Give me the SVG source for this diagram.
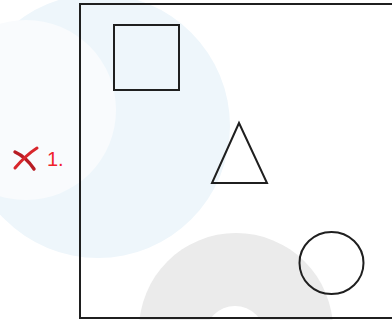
<svg xmlns="http://www.w3.org/2000/svg" width="392" height="320" viewBox="0 0 392 320">
<style>
.sh{fill:none;stroke:#1f1f1f;stroke-width:2}
.lbl{font-family:"Liberation Sans",Arial,sans-serif;font-size:20px;fill:#f0222a}
</style>
<rect width="392" height="320" fill="#ffffff"/>
<g id="watermark">
<circle cx="98" cy="126" r="132" fill="#eef6fb"/>
<circle cx="26" cy="110" r="90" fill="#f9fbfd"/>
<circle cx="236" cy="330" r="97" fill="#ebebeb"/>
<circle cx="235" cy="336" r="30" fill="#ffffff"/>
</g>
<g id="frame"><rect x="80" y="4" width="322" height="314" class="sh"/></g>
<g id="square"><rect x="114" y="25" width="65" height="65" class="sh"/></g>
<g id="triangle"><polygon points="239,123 212,183 267,183" class="sh"/></g>
<g id="circle"><ellipse cx="331.5" cy="263" rx="32" ry="31" class="sh"/></g>
<g id="mark">
<path d="M15,152 Q26,157 34,169" fill="none" stroke="#b81c24" stroke-width="3.4" stroke-linecap="round"/>
<path d="M37,148 Q26,155 15,168" fill="none" stroke="#d8262c" stroke-width="3" stroke-linecap="round"/>
<text x="47" y="166" class="lbl">1.</text>
</g>
</svg>
